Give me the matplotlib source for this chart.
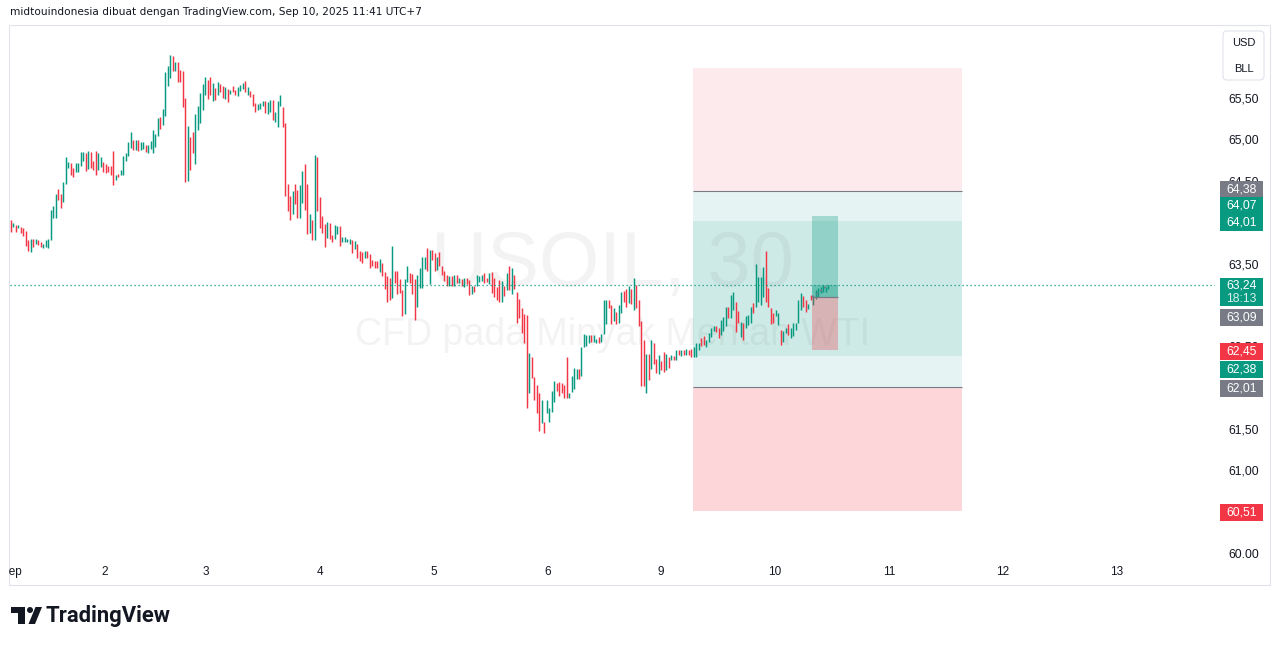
import numpy as np
import matplotlib
matplotlib.use("Agg")
import matplotlib.pyplot as plt
import matplotlib.transforms as mtransforms
from matplotlib.patches import Rectangle, FancyBboxPatch, Polygon, Circle
from matplotlib.transforms import Bbox

# ---------------- data (30-minute candles, USOIL) ----------------
opens = [
    64.03, 63.94, 63.96, 63.93, 63.94, 63.93, 63.89, 63.78, 63.64, 63.80,
    63.74, 63.79, 63.76, 63.69, 63.70, 63.69, 63.78, 64.05, 64.05, 64.40,
    64.34, 64.24, 64.46, 64.65, 64.71, 64.65, 64.61, 64.61, 64.68, 64.74,
    64.83, 64.64, 64.85, 64.74, 64.86, 64.63, 64.67, 64.73, 64.70, 64.68,
    64.68, 64.86, 64.51, 64.58, 64.57, 64.57, 64.74, 64.80, 64.90, 64.99,
    64.87, 64.99, 64.87, 64.88, 64.93, 64.84, 64.88, 64.84, 64.91, 65.04,
    65.27, 65.17, 65.28, 65.65, 65.74, 66.01, 65.83, 65.94, 65.84, 65.83,
    65.50, 64.50, 65.03, 65.09, 64.70, 65.11, 65.20, 65.36, 65.54, 65.72,
    65.75, 65.47, 65.62, 65.54, 65.67, 65.65, 65.49, 65.61, 65.55, 65.65,
    65.60, 65.52, 65.58, 65.61, 65.71, 65.54, 65.58, 65.55, 65.44, 65.35,
    65.37, 65.40, 65.46, 65.31, 65.33, 65.48, 65.21, 65.15, 65.40, 65.39,
    65.20, 64.46, 64.32, 64.10, 64.46, 64.39, 64.05, 64.23, 64.70, 64.46,
    63.87, 64.03, 63.78, 64.79, 64.30, 64.07, 63.98, 63.81, 63.99, 63.84,
    63.80, 63.86, 63.95, 63.76, 63.76, 63.76, 63.74, 63.78, 63.68, 63.73,
    63.65, 63.64, 63.57, 63.65, 63.62, 63.54, 63.53, 63.53, 63.40, 63.51,
    63.40, 63.35, 63.33, 63.08, 63.41, 63.41, 63.31, 63.18, 62.89, 63.28,
    63.39, 63.37, 63.31, 62.98, 63.20, 63.20, 63.43, 63.69, 63.25, 63.66,
    63.63, 63.42, 63.64, 63.47, 63.41, 63.36, 63.23, 63.35, 63.23, 63.36,
    63.26, 63.31, 63.22, 63.33, 63.30, 63.13, 63.23, 63.23, 63.28, 63.29,
    63.39, 63.33, 63.25, 63.40, 63.33, 63.22, 63.30, 63.04, 63.23, 63.18,
    63.47, 63.13, 63.36, 63.15, 63.07, 62.96, 62.89, 62.88, 61.93, 62.37,
    62.13, 62.03, 61.93, 61.57, 61.58, 61.69, 61.58, 61.71, 61.83, 62.06,
    62.07, 62.05, 62.03, 62.37, 61.87, 61.95, 61.98, 62.10, 62.23, 62.14,
    62.49, 62.50, 62.54, 62.63, 62.55, 62.54, 62.61, 62.55, 62.65, 62.77,
    63.06, 63.00, 62.80, 62.91, 62.78, 62.90, 63.17, 63.19, 63.02, 63.19,
    62.94, 63.24, 63.06, 62.81, 62.58, 61.93, 62.41, 62.23, 62.54, 62.35,
    62.16, 62.32, 62.43, 62.21, 62.37, 62.33, 62.38, 62.33, 62.46, 62.38,
    62.46, 62.40, 62.45, 62.47, 62.37, 62.37, 62.46, 62.60, 62.62, 62.49,
    62.55, 62.61, 62.68, 62.74, 62.72, 62.63, 62.68, 62.74, 62.98, 62.84,
    62.94, 63.04, 62.93, 62.61, 62.78, 62.72, 62.76, 62.78, 63.02, 62.98,
    63.04, 63.00, 63.10, 63.65, 63.20, 62.96, 62.90, 62.86, 62.76, 62.70,
    62.55, 62.66, 62.77, 62.60, 62.62, 62.70, 62.78, 62.94, 63.11, 63.06,
    62.95, 63.12, 63.00, 63.07, 63.09, 63.14, 63.16, 63.16, 63.19,
]
closes = [
    63.88, 63.99, 63.88, 63.96, 63.87, 63.83, 63.71, 63.65, 63.80, 63.70,
    63.80, 63.72, 63.70, 63.74, 63.78, 63.80, 64.15, 64.19, 64.34, 64.27,
    64.17, 64.48, 64.79, 64.73, 64.57, 64.54, 64.71, 64.72, 64.85, 64.85,
    64.62, 64.86, 64.65, 64.63, 64.57, 64.83, 64.79, 64.61, 64.60, 64.61,
    64.57, 64.45, 64.57, 64.54, 64.63, 64.80, 64.84, 64.97, 65.09, 64.87,
    64.99, 64.86, 64.97, 64.97, 64.85, 64.93, 64.98, 65.11, 65.07, 65.26,
    65.13, 65.37, 65.81, 65.89, 66.02, 65.83, 65.94, 65.69, 65.69, 65.39,
    64.49, 65.16, 64.63, 64.83, 65.31, 65.40, 65.56, 65.67, 65.75, 65.49,
    65.54, 65.68, 65.48, 65.70, 65.57, 65.50, 65.63, 65.45, 65.60, 65.57,
    65.54, 65.63, 65.66, 65.68, 65.57, 65.63, 65.51, 65.40, 65.33, 65.43,
    65.44, 65.46, 65.32, 65.45, 65.48, 65.23, 65.33, 65.46, 65.54, 65.15,
    64.31, 64.13, 64.02, 64.38, 64.22, 64.05, 64.45, 64.62, 64.15, 63.86,
    64.10, 63.78, 64.81, 64.13, 63.93, 63.87, 63.70, 64.00, 63.80, 63.76,
    63.96, 63.95, 63.71, 63.82, 63.82, 63.80, 63.80, 63.63, 63.77, 63.57,
    63.53, 63.51, 63.65, 63.57, 63.45, 63.47, 63.45, 63.45, 63.56, 63.35,
    63.19, 63.04, 63.06, 63.71, 63.26, 63.13, 63.14, 62.86, 63.31, 63.47,
    63.26, 63.13, 62.82, 63.36, 63.44, 63.58, 63.58, 63.41, 63.66, 63.54,
    63.41, 63.58, 63.47, 63.36, 63.29, 63.23, 63.35, 63.23, 63.36, 63.26,
    63.33, 63.23, 63.33, 63.25, 63.12, 63.23, 63.16, 63.36, 63.35, 63.36,
    63.26, 63.28, 63.39, 63.14, 63.10, 63.06, 63.03, 63.29, 63.11, 63.39,
    63.18, 63.44, 63.19, 62.78, 62.84, 62.66, 62.54, 61.75, 62.42, 62.12,
    61.85, 61.69, 61.47, 61.85, 61.45, 61.85, 61.75, 61.96, 62.08, 61.96,
    61.90, 61.94, 61.87, 61.88, 61.94, 62.14, 62.24, 62.23, 62.10, 62.49,
    62.65, 62.64, 62.64, 62.55, 62.63, 62.59, 62.54, 62.65, 63.06, 63.06,
    62.96, 62.77, 62.96, 62.77, 63.00, 63.15, 63.04, 62.98, 63.23, 63.01,
    63.33, 62.96, 62.74, 62.02, 62.02, 62.41, 62.09, 62.58, 62.29, 62.18,
    62.39, 62.21, 62.19, 62.41, 62.24, 62.40, 62.33, 62.46, 62.39, 62.45,
    62.39, 62.47, 62.39, 62.37, 62.49, 62.54, 62.54, 62.50, 62.51, 62.58,
    62.66, 62.72, 62.74, 62.67, 62.60, 62.82, 62.85, 62.97, 62.84, 63.12,
    63.15, 62.67, 62.78, 62.79, 62.57, 62.86, 62.88, 62.98, 62.90, 63.50,
    63.34, 63.34, 63.46, 63.04, 62.98, 62.77, 62.78, 62.94, 62.90, 62.52,
    62.69, 62.72, 62.64, 62.72, 62.78, 62.78, 63.06, 63.14, 62.98, 62.91,
    63.01, 63.06, 63.11, 63.18, 63.20, 63.22, 63.24, 63.22, 63.24,
]
day_labels = ["Sep", "2", "3", "4", "5", "6", "9", "10", "11", "12", "13"]
day_positions = [0.4, 37.7, 78.3, 124.0, 169.8, 215.4, 260.9, 306.7, 352.5, 398.2, 444.0]
price_ticks = [65.5, 65.0, 64.5, 63.5, 62.5, 61.5, 61.0, 60.0]
price_tick_labels = ["65,50", "65,00", "64,50", "63,50", "62,50", "61,50", "61,00", "60.00"]
last_price = 63.24
countdown = "18:13"
short_entry, short_stop, short_target = 64.38, 65.86, 62.38
long_entry, long_stop, long_target = 62.01, 60.51, 64.01
trade_entry, trade_target, trade_stop = 63.09, 64.07, 62.45
header = "midtouindonesia dibuat dengan TradingView.com, Sep 10, 2025 11:41 UTC+7"

assert len(opens) == len(closes)

# ---------------- style ----------------
UP, DOWN, GREY, TEXT = "#089981", "#f23645", "#787b86", "#131722"
SANS = ["Liberation Sans", "DejaVu Sans"]
W, H = 1281, 646
PX = mtransforms.IdentityTransform()

fig = plt.figure(figsize=(W / 100, H / 100), dpi=100)
fig.patch.set_facecolor("white")
ax = fig.add_axes([10 / W, (H - 560) / H, 1205 / W, 535 / H])
ax.set_xlim(-0.4, 483.3)
ax.set_ylim(59.916, 66.383)
for s in ax.spines.values():
    s.set_visible(False)
ax.set_facecolor("white")

# watermark
ax.text(0.5, 0.551, "USOIL, 30", transform=ax.transAxes, ha="center", va="center",
        fontsize=56, color="#f3f3f3", family=SANS, zorder=0)
ax.text(0.5, 0.42, "CFD pada Minyak Mentah WTI", transform=ax.transAxes, ha="center",
        va="center", fontsize=27, color="#f3f3f3", family=SANS, zorder=0)

# position tools (two overlapping)
x0, x1 = 273.8, 381.8
wd = x1 - x0
ax.add_patch(Rectangle((x0, short_entry), wd, short_stop - short_entry, fc=DOWN, alpha=0.1, lw=0, zorder=1))
ax.add_patch(Rectangle((x0, short_target), wd, short_entry - short_target, fc=UP, alpha=0.1, lw=0, zorder=1))
ax.add_patch(Rectangle((x0, long_stop), wd, long_entry - long_stop, fc=DOWN, alpha=0.2, lw=0, zorder=1))
ax.add_patch(Rectangle((x0, long_entry), wd, long_target - long_entry, fc=UP, alpha=0.1, lw=0, zorder=1))
ax.hlines([short_entry, long_entry], x0, x1, colors=GREY, lw=0.8, zorder=2)

# candles
x = np.arange(len(opens))
o = np.array(opens)
c = np.array(closes)
cols = np.where(c >= o, UP, DOWN)
ax.vlines(x, np.minimum(o, c), np.maximum(o, c), colors=cols, lw=1.05, zorder=3)

# last price line
ax.axhline(last_price, color=UP, lw=0.9, ls=(0, (1, 2.2)), zorder=4)

# active trade tool
t0, t1 = 321.6, 332.0
ax.add_patch(Rectangle((t0, trade_entry), t1 - t0, trade_target - trade_entry, fc=UP, alpha=0.3, lw=0, zorder=5))
ax.add_patch(Rectangle((t0, trade_stop), t1 - t0, trade_entry - trade_stop, fc=DOWN, alpha=0.3, lw=0, zorder=5))
ax.add_patch(Rectangle((t0, trade_entry), t1 - t0, last_price - trade_entry, fc=UP, alpha=0.3, lw=0, zorder=5))
ax.hlines(trade_entry, t0, t1, colors=GREY, lw=0.9, zorder=6)
ax.plot([t0, x[-1]], [trade_entry, last_price], color=GREY, lw=0.9, ls=(0, (2, 2)), zorder=6)

# price axis
ax.yaxis.tick_right()
ax.set_yticks(price_ticks)
ax.set_yticklabels(price_tick_labels)
ax.tick_params(axis="y", length=0, pad=9.4, labelsize=8.7, labelcolor=TEXT)
for lbl in ax.get_yticklabels():
    lbl.set_family(SANS)
ax.set_xticks([])

# time axis labels
tx = mtransforms.blended_transform_factory(ax.transData, PX)
for lab, pos in zip(day_labels, day_positions):
    t = fig.text(pos, H - 572, lab, transform=tx, ha="center", va="center", fontsize=8.5,
                 color=TEXT, family=SANS)
    t.set_clip_box(Bbox([[9, 0], [1215, H]]))
    t.set_clip_on(True)


def ypx(v):
    return ax.transData.transform((0, v))[1]


# price labels on axis
labels = [
    ("64,38", GREY, short_entry, -1.7),
    ("64,07", UP, trade_target, -10.8),
    ("64,01", UP, long_target, 1.2),
    ("63,09", GREY, trade_entry, 19.6),
    ("62,45", DOWN, trade_stop, 1.2),
    ("62,38", UP, short_target, 12.9),
    ("62,01", GREY, long_entry, 1.3),
    ("60,51", DOWN, long_stop, 1.2),
]
for txt, col, val, nudge in labels:
    yc = ypx(val) - nudge
    fig.add_artist(Rectangle((1220, yc - 8.5), 43, 17, fc=col, lw=0, transform=PX))
    fig.text(1241.5, yc, txt, transform=PX, ha="center", va="center", fontsize=8.7,
             color="white", family=SANS)

yl = ypx(last_price)
fig.add_artist(Rectangle((1220, yl - 21), 43, 28, fc=UP, lw=0, transform=PX))
fig.text(1241.5, yl, "63,24", transform=PX, ha="center", va="center", fontsize=8.7,
         color="white", family=SANS)
fig.text(1241.5, yl - 13.5, countdown, transform=PX, ha="center", va="center", fontsize=8.7,
         color="#d8f0ea", family=SANS)

# currency box
fig.add_artist(FancyBboxPatch((1223, H - 80), 41, 49, boxstyle="round,pad=0,rounding_size=4",
                              ec="#e0e3eb", fc="white", lw=0.8, transform=PX))
fig.text(1243.5, H - 43, "USD", transform=PX, ha="center", va="center", fontsize=8, color=TEXT, family=SANS)
fig.text(1243.5, H - 69, "BLL", transform=PX, ha="center", va="center", fontsize=8, color=TEXT, family=SANS)

# chart frame
fig.add_artist(Rectangle((9, H - 585), 1261, 560, fc="none", ec="#e0e3eb", lw=0.8, transform=PX))

# header
fig.text(10, H - 12, header, transform=PX, ha="left", va="center", fontsize=7.6, color=TEXT,
         family=["DejaVu Sans"])

# TradingView logo
def P(xx, yy):
    return (xx, H - yy)

fig.add_artist(Polygon([P(11, 607), P(25, 607), P(25, 624), P(18, 624), P(18, 613), P(11, 613)],
                       closed=True, fc=TEXT, lw=0, transform=PX))
fig.add_artist(Circle(P(30, 610), 3, fc=TEXT, lw=0, transform=PX))
fig.add_artist(Polygon([P(28.5, 624), P(35, 624), P(42, 607), P(35.5, 607)], closed=True,
                       fc=TEXT, lw=0, transform=PX))
fig.text(46, H - 616, "TradingView", transform=PX, ha="left", va="center", fontsize=15.8,
         fontweight="bold", color=TEXT, family=["Roboto", "DejaVu Sans"])

fig.savefig("out.png", dpi=100, facecolor="white")
